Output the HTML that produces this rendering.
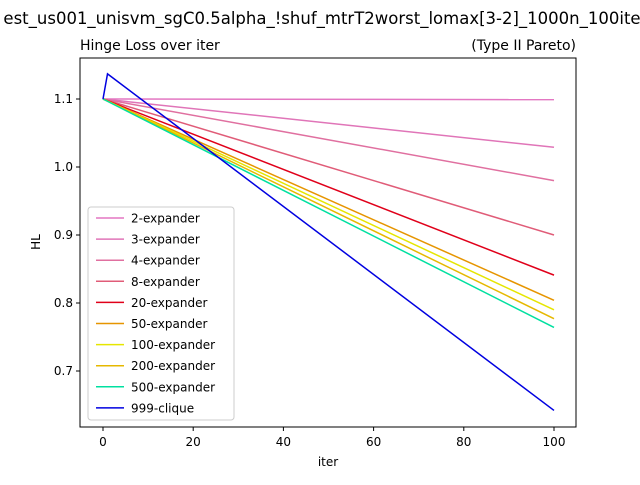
<!DOCTYPE html>
<html><head><meta charset="utf-8"><style>
body{margin:0;background:#fff;}
svg text{font-family:"DejaVu Sans","Liberation Sans",sans-serif;}
</style></head><body>
<svg id="chart" width="640" height="480">
<rect width="640" height="480" fill="#fff"/>
<text x="322" y="24" text-anchor="middle" font-size="16.5">est_us001_unisvm_sgC0.5alpha_!shuf_mtrT2worst_lomax[3-2]_1000n_100ite</text>
<text x="80" y="50" font-size="14">Hinge Loss over iter</text>
<text x="576" y="50" text-anchor="end" font-size="14">(Type II Pareto)</text>
<g id="plot"></g>
<rect x="80" y="58" width="496" height="369" fill="none" stroke="#000" stroke-width="1"/>
<text x="328" y="466" text-anchor="middle" font-size="12">iter</text>
<text x="40" y="242" text-anchor="middle" font-size="12" transform="rotate(-90 40 242)">HL</text>
</svg>
<script>
const xTicks=[0,20,40,60,80,100];
const yTicks=[0.7,0.8,0.9,1.0,1.1];
const seriesNames=["2-expander","3-expander","4-expander","8-expander","20-expander","50-expander","100-expander","200-expander","500-expander","999-clique"];
const seriesColors=["#e377c2","#e075b8","#e070a0","#e05c78","#e0001a","#e69500","#e6e600","#e6b800","#00e0a0","#0000e0"];
const seriesX=[[0,100],[0,100],[0,100],[0,100],[0,100],[0,100],[0,100],[0,100],[0,100],[0,1,100]];
const seriesY=[[1.1,1.099],[1.1,1.029],[1.1,0.980],[1.1,0.900],[1.1,0.841],[1.1,0.804],[1.1,0.790],[1.1,0.777],[1.1,0.764],[1.1,1.137,0.642]];
const X=v=>103+v*4.51, Y=v=>99+(1.1-v)*680;
const NS="http://www.w3.org/2000/svg", g=document.getElementById("plot");
function mk(t,a){const e=document.createElementNS(NS,t);for(const k in a)e.setAttribute(k,a[k]);g.appendChild(e);return e;}
xTicks.forEach(t=>{
 const l=mk("line",{x1:X(t),x2:X(t),y1:427,y2:431,stroke:"#000"});
 
 
 const s=mk("text",{x:X(t),y:446,"text-anchor":"middle","font-size":"12"});s.textContent=t;
 
 
});
yTicks.forEach(t=>{
 const l=mk("line",{x1:76,x2:80,y1:Y(t),y2:Y(t),stroke:"#000"});
 
 
 const s=mk("text",{x:73,y:Y(t)+4,"text-anchor":"end","font-size":"12"});s.textContent=t.toFixed(1);
 
 
});
seriesNames.forEach((n,i)=>{
 const p=mk("polyline",{points:seriesX[i].map((x,j)=>X(x)+","+Y(seriesY[i][j])).join(" "),fill:"none",stroke:seriesColors[i],"stroke-width":1.5});
 
 
});
const lg=mk("rect",{x:88,y:207,width:146,height:213,fill:"#fff","fill-opacity":0.8,stroke:"#ccc",rx:3});


seriesNames.forEach((n,i)=>{
 const y=218+i*21.1;
 const l=mk("line",{x1:96,x2:124,y1:y,y2:y,stroke:seriesColors[i],"stroke-width":1.5});
 
 
 const t=mk("text",{x:131,y:y+4.5,"font-size":"12"});t.textContent=n;
 
 
});
</script>
</body></html>
